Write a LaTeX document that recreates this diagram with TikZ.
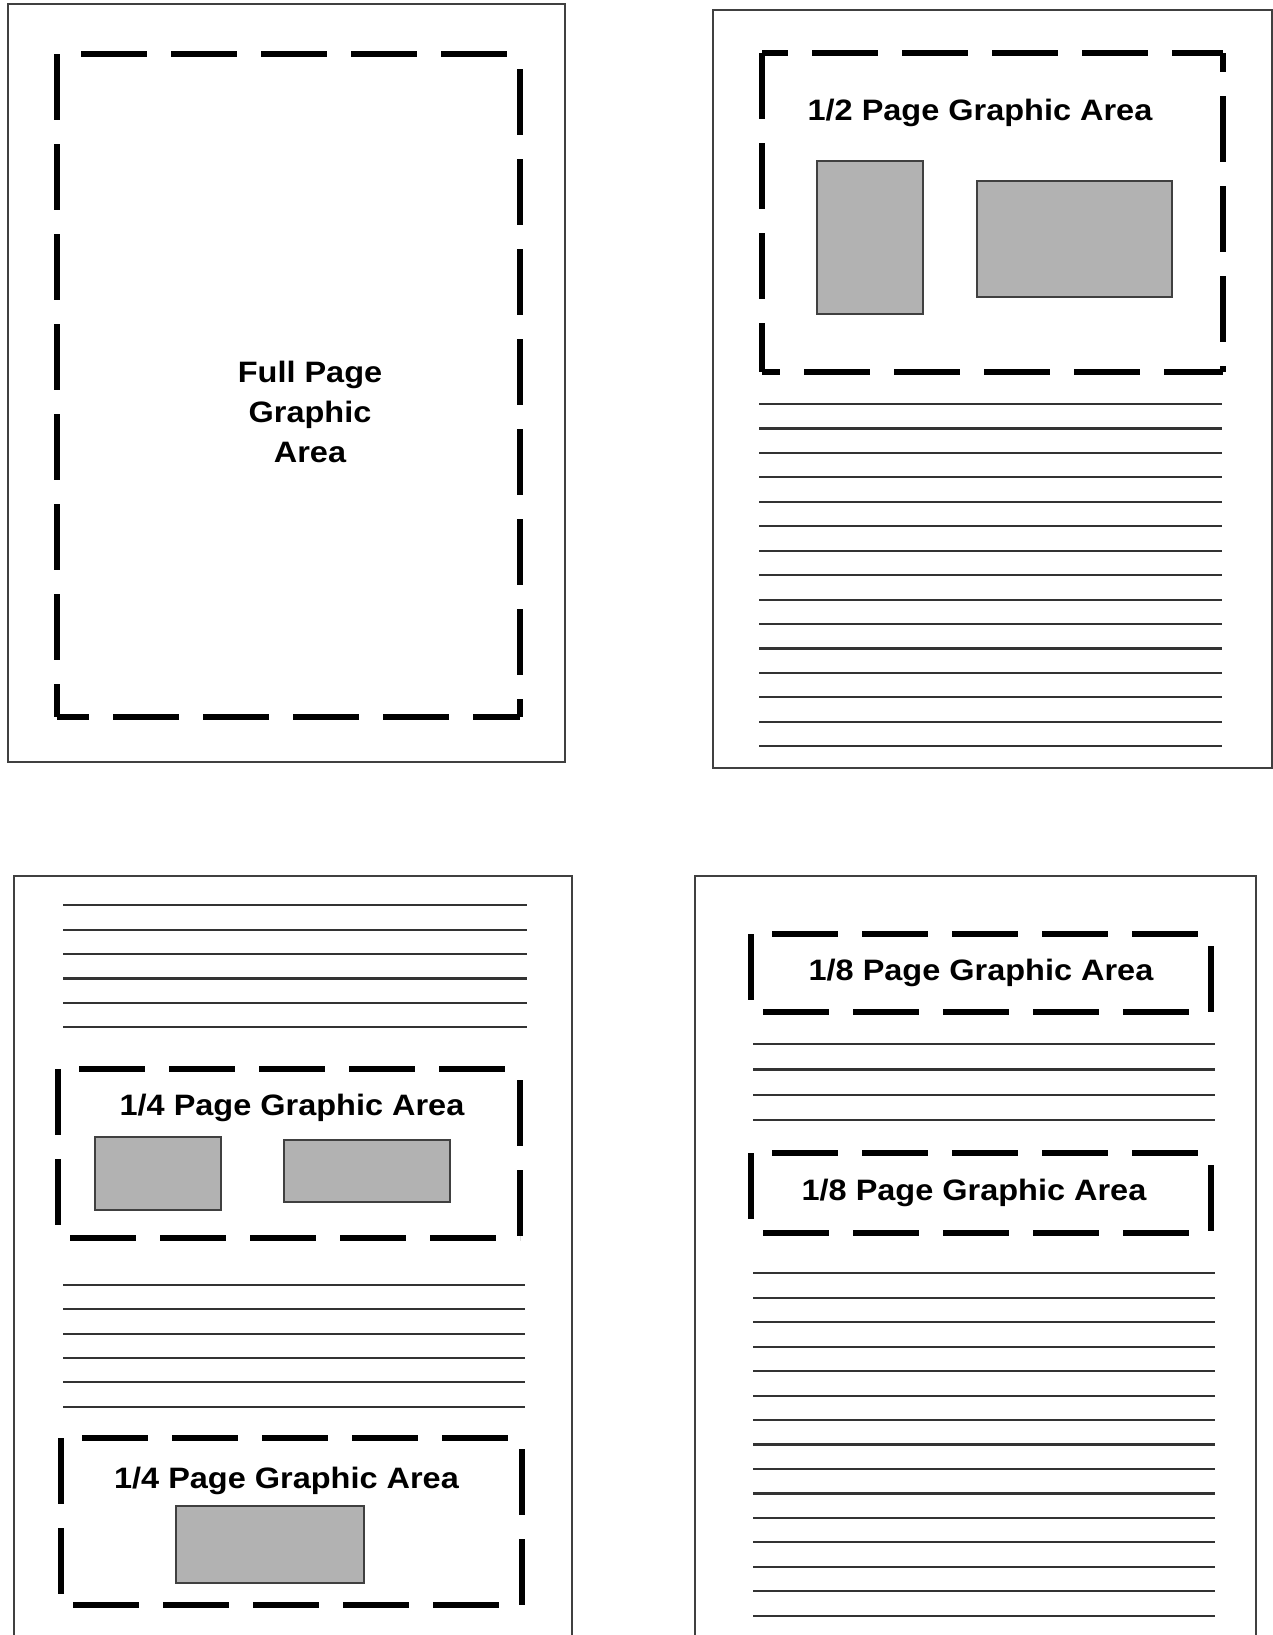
\documentclass[tikz,border=0pt]{standalone}
\usepackage{fontspec}
\setmainfont{Liberation Sans}
\newfontfamily\areafont{Liberation Sans}[FakeStretch=1.1]
\usetikzlibrary{positioning}
\definecolor{fillGray}{RGB}{178,178,178}

\begin{document}
\begin{tikzpicture}[x=0.1mm, y=-0.1mm,
  pageframe/.style={draw=black!75, line width=0.6pt},
  textline/.style={draw=black!80, line width=0.6pt},
  gaside/.style={line width=1.9pt, dash pattern=on 6.6mm off 2.4mm},
  graybox/.style={draw=black!75, fill=fillGray, line width=0.6pt},
  areatext/.style={font=\areafont\bfseries\fontsize{8.4}{11.4}\selectfont, inner sep=0pt}]
  \useasboundingbox (0,0) rectangle (1273,1635);
  \clip (0,0) rectangle (1273,1635);

  % Full page (top left)
  \draw[pageframe] (8,4) rectangle (565,762);
  \draw[gaside, dash phase=6.6mm] (57,54) -- (520,54);
  \draw[gaside] (57,54) -- (57,717);
  \draw[gaside, dash phase=7.5mm] (520,54) -- (520,717);
  \draw[gaside, dash phase=3.4mm] (57,717) -- (520,717);
  \node[areatext, align=center] (fulltxt) at (310,412) {Full Page\\Graphic\\Area};

  % Half page (top right)
  \draw[pageframe] (713,10) rectangle (1272,768);
  \draw[gaside, dash phase=4.0mm] (762,53) -- (1223,53);
  \draw[gaside] (762,53) -- (762,372);
  \draw[gaside, dash phase=4.7mm] (1223,53) -- (1223,372);
  \draw[gaside, dash phase=4.8mm] (762,372) -- (1223,372);
  \node[areatext, anchor=base] (halftxt) at (980,120.7) {1/2 Page Graphic Area};
  \draw[graybox] (817,161) rectangle (923,314);
  \draw[graybox] (977,181) rectangle (1172,297);
  \foreach \i in {0,...,14}
    \draw[textline] (759,{404+24.45*\i}) -- (1222,{404+24.45*\i});

  % Quarter pages (bottom left)
  \draw[pageframe] (14,876) rectangle (572,1700);
  \foreach \i in {0,...,5}
    \draw[textline] (63,{905.3+24.4*\i}) -- (527,{905.3+24.4*\i});
  \draw[gaside, dash phase=6.9mm] (58,1069) -- (520,1069);
  \draw[gaside] (58,1069) -- (58,1238);
  \draw[gaside, dash phase=7.9mm] (520,1069) -- (520,1238);
  \draw[gaside, dash phase=7.8mm] (58,1238) -- (520,1238);
  \node[areatext, anchor=base] (quartertxtA) at (292,1115) {1/4 Page Graphic Area};
  \draw[graybox] (95,1137) rectangle (221,1210);
  \draw[graybox] (284,1140) rectangle (450,1202);
  \foreach \i in {0,...,5}
    \draw[textline] (63,{1285+24.35*\i}) -- (525,{1285+24.35*\i});
  \draw[gaside, dash phase=6.9mm] (61,1438) -- (522,1438);
  \draw[gaside] (61,1438) -- (61,1605);
  \draw[gaside, dash phase=7.9mm] (522,1438) -- (522,1605);
  \draw[gaside, dash phase=7.8mm] (61,1605) -- (522,1605);
  \node[areatext, anchor=base] (quartertxtB) at (286.5,1488.3) {1/4 Page Graphic Area};
  \draw[graybox] (176,1506) rectangle (364,1583);

  % Eighth pages (bottom right)
  \draw[pageframe] (695,876) rectangle (1256,1700);
  \draw[gaside, dash phase=6.9mm] (751,934) -- (1211,934);
  \draw[gaside] (751,934) -- (751,1012);
  \draw[gaside, dash phase=7.8mm] (1211,934) -- (1211,1012);
  \draw[gaside, dash phase=7.8mm] (751,1012) -- (1211,1012);
  \node[areatext, anchor=base] (eighthtxtA) at (981,980.7) {1/8 Page Graphic Area};
  \foreach \i in {0,...,3}
    \draw[textline] (753,{1044.3+25.2*\i}) -- (1215,{1044.3+25.2*\i});
  \draw[gaside, dash phase=6.9mm] (751,1153) -- (1211,1153);
  \draw[gaside] (751,1153) -- (751,1233);
  \draw[gaside, dash phase=7.8mm] (1211,1153) -- (1211,1233);
  \draw[gaside, dash phase=7.8mm] (751,1233) -- (1211,1233);
  \node[areatext, anchor=base] (eighthtxtB) at (974,1200) {1/8 Page Graphic Area};
  \foreach \i in {0,...,14}
    \draw[textline] (753,{1273.3+24.46*\i}) -- (1215,{1273.3+24.46*\i});
\end{tikzpicture}
\end{document}
